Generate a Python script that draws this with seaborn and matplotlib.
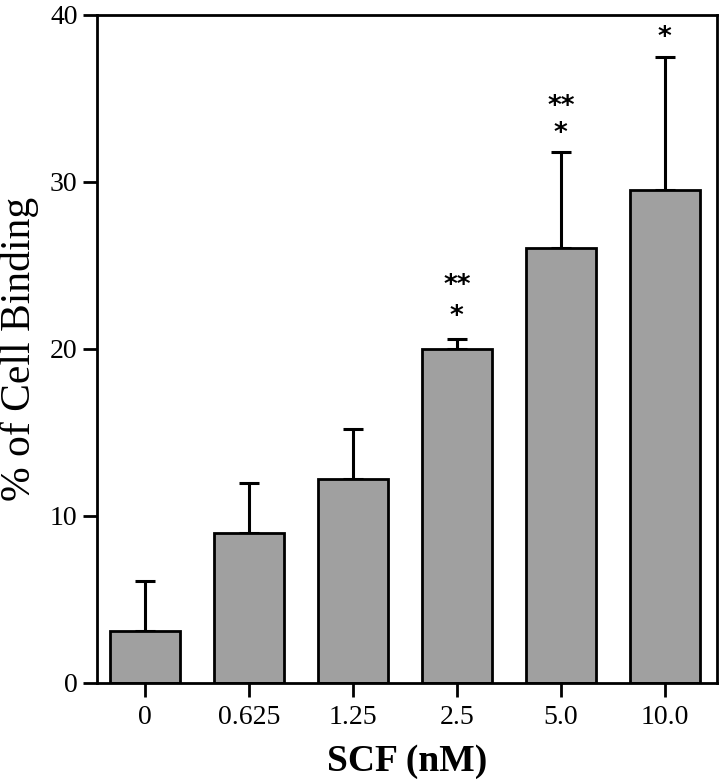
import numpy as np
import matplotlib
matplotlib.use('Agg')
import matplotlib.pyplot as plt
import seaborn as sns

# data
doses = ['0', '0.625', '1.25', '2.5', '5.0', '10.0']
binding = [3.1, 9.0, 12.2, 20.0, 26.05, 29.5]
err_up = [3.0, 3.0, 3.0, 0.6, 5.75, 8.0]
stars = ['', '', '', '*', '*', '*']
stars_y = [0, 0, 0, 21.9, 32.9, 38.6]
dstars = ['', '', '', '**', '**', '']
dstars_y = [0, 0, 0, 23.8, 34.5, 0]

sns.set_style('ticks')
plt.rcParams['font.family'] = ['Liberation Serif', 'DejaVu Serif']
plt.rcParams['text.color'] = 'black'
plt.rcParams['axes.labelcolor'] = 'black'
plt.rcParams['xtick.color'] = 'black'
plt.rcParams['ytick.color'] = 'black'
plt.rcParams['axes.edgecolor'] = 'black'

fig = plt.figure(figsize=(7.25, 7.8), dpi=100)
ax = fig.add_axes([0.1338, 0.1244, 0.855, 0.8564])

sns.barplot(x=doses, y=binding, color='#a0a0a0', edgecolor='black',
            linewidth=2, width=0.67, saturation=1, ax=ax, zorder=2)
xs = np.arange(len(doses))
ax.errorbar(xs, binding, yerr=[np.zeros(len(doses)), err_up], fmt='none',
            ecolor='black', elinewidth=2.2, capsize=7, capthick=2.2, zorder=1)

for x, s, y in zip(xs, stars, stars_y):
    if s:
        ax.text(x, y, s, ha='center', va='center', fontsize=19,
                fontweight='bold', family='DejaVu Sans', color='black')
for x, s, y in zip(xs, dstars, dstars_y):
    if s:
        ax.text(x, y, s, ha='center', va='center', fontsize=19,
                fontweight='bold', family='DejaVu Sans', color='black')

ax.set_xlim(-0.46, 5.5)
ax.set_ylim(0, 40)
ax.set_yticks([0, 10, 20, 30, 40])
ax.tick_params(axis='both', direction='out', length=10, width=2, labelsize=20,
               colors='black', pad=4)
ax.tick_params(axis='x', pad=6)
for sp in ax.spines.values():
    sp.set_linewidth(2)
    sp.set_visible(True)
    sp.set_color('black')

ax.set_xlabel('SCF (nM)', fontsize=27, fontweight='bold', labelpad=10)
ax.set_ylabel('% of Cell Binding', fontsize=30, labelpad=8)

fig.savefig('out.png', dpi=100)
